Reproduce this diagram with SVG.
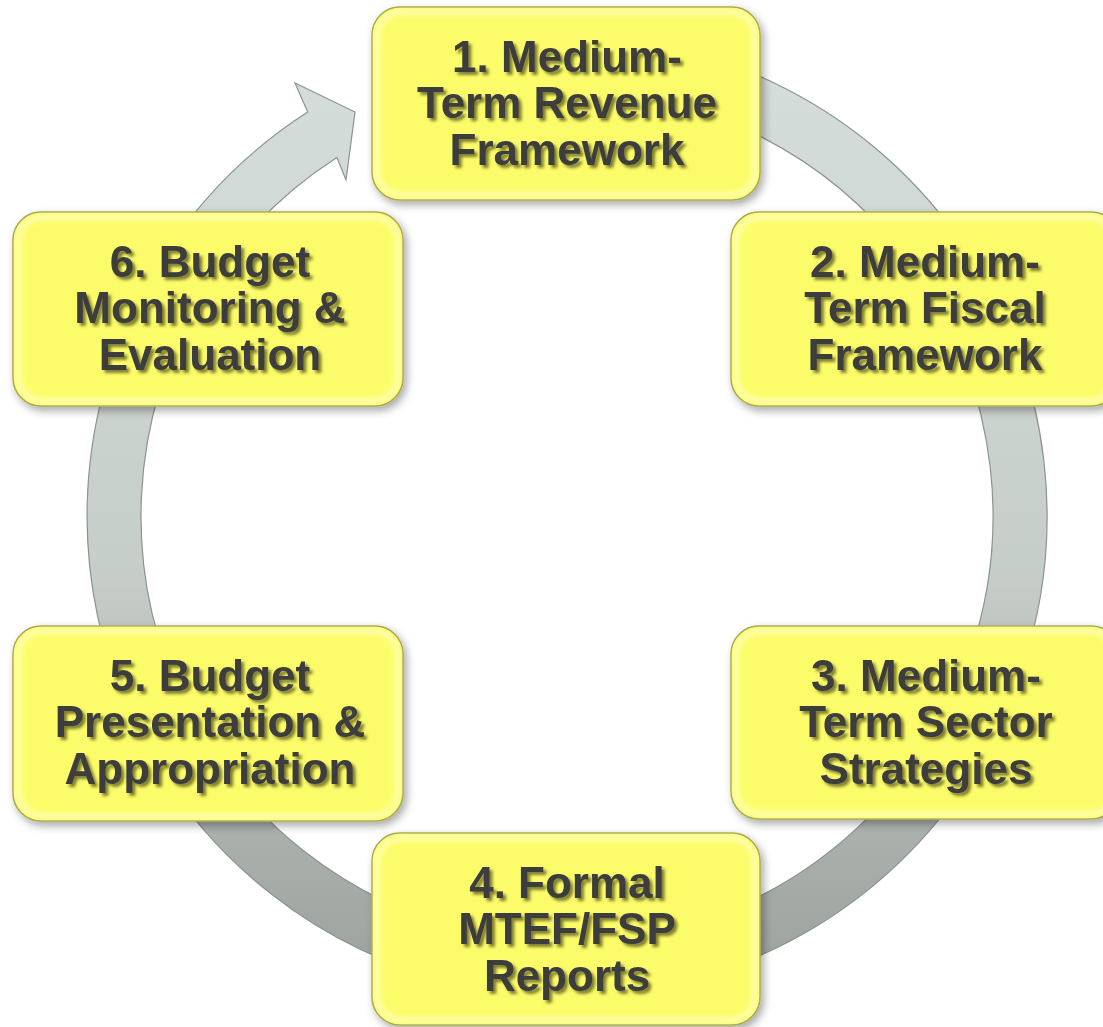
<svg xmlns="http://www.w3.org/2000/svg" width="1103" height="1027" viewBox="0 0 1103 1027">
  <defs>
    <style>
      .box { fill: #fcfc6a; stroke: #9e9e40; stroke-width: 1.5; filter: url(#boxShadow); }
      .rim { fill: none; stroke: #ffffc4; stroke-width: 6; opacity: 0.75; filter: url(#soft); }
      .label { font-family: "Liberation Sans", Arial, sans-serif; font-weight: bold; font-size: 44px; fill: #3c3c3c; text-anchor: middle; filter: url(#textShadow); }
      .ringEdge { fill: none; stroke: #8c938f; stroke-width: 1.2; }
    </style>
    <filter id="boxShadow" x="-10%" y="-10%" width="125%" height="130%">
      <feDropShadow dx="3" dy="4" stdDeviation="4" flood-color="#000" flood-opacity="0.35"/>
    </filter>
    <filter id="soft" x="-5%" y="-5%" width="110%" height="110%">
      <feGaussianBlur stdDeviation="2.5"/>
    </filter>
    <filter id="textShadow" x="-10%" y="-20%" width="120%" height="150%">
      <feGaussianBlur in="SourceAlpha" stdDeviation="1.8" result="b"/>
      <feOffset in="b" dx="2.5" dy="3" result="o"/>
      <feFlood flood-color="#55551a" flood-opacity="0.75"/>
      <feComposite in2="o" operator="in" result="s"/>
      <feMerge>
        <feMergeNode in="s"/>
        <feMergeNode in="SourceGraphic"/>
      </feMerge>
    </filter>
    <!-- ring shading: lighter at the top, darker at the bottom -->
    <linearGradient id="ringFill" gradientUnits="userSpaceOnUse" x1="0" y1="40" x2="0" y2="1000">
      <stop offset="0" stop-color="#d6dedb"/>
      <stop offset="0.55" stop-color="#c6ceca"/>
      <stop offset="0.8" stop-color="#acb2ae"/>
      <stop offset="1" stop-color="#9aa09c"/>
    </linearGradient>
    <!-- soft lengthwise sheen along the middle of the band -->
    <radialGradient id="ringSheen" gradientUnits="userSpaceOnUse" cx="567" cy="516" r="512">
      <stop offset="0.83" stop-color="#fff" stop-opacity="0"/>
      <stop offset="0.885" stop-color="#fff" stop-opacity="0.18"/>
      <stop offset="0.94" stop-color="#fff" stop-opacity="0"/>
      <stop offset="1" stop-color="#fff" stop-opacity="0"/>
    </radialGradient>
  </defs>

  <rect width="1103" height="1027" fill="#ffffff"/>

  <!-- circular flow arrow running clockwise behind the six stages -->
  <g id="connectors">
    <path id="cycle-arrow" d="M 567 36 A 480 480 0 1 1 307.7 112.1 L 295 83 L 355 112 L 346 180 L 336.9 157.5 A 426 426 0 1 0 567 90 Z" fill="url(#ringFill)"/>
    <path d="M 567 36 A 480 480 0 1 1 307.7 112.1 L 295 83 L 355 112 L 346 180 L 336.9 157.5 A 426 426 0 1 0 567 90 Z" fill="url(#ringSheen)" class="ringEdge"/>
  </g>

  <g id="node1">
    <rect class="box" x="372" y="7" width="388" height="193" rx="28"/>
    <rect class="rim" x="377" y="12" width="378" height="183" rx="24"/>
    <text class="label" x="567" y="72">1. Medium-</text>
    <text class="label" x="567" y="118">Term Revenue</text>
    <text class="label" x="567" y="165">Framework</text>
  </g>

  <g id="node2">
    <rect class="box" x="731" y="212" width="388" height="194" rx="28"/>
    <rect class="rim" x="736" y="217" width="378" height="184" rx="24"/>
    <text class="label" x="925" y="277">2. Medium-</text>
    <text class="label" x="925" y="323">Term Fiscal</text>
    <text class="label" x="925" y="370">Framework</text>
  </g>

  <g id="node3">
    <rect class="box" x="731" y="626" width="388" height="193" rx="28"/>
    <rect class="rim" x="736" y="631" width="378" height="183" rx="24"/>
    <text class="label" x="926" y="691">3. Medium-</text>
    <text class="label" x="926" y="737">Term Sector</text>
    <text class="label" x="926" y="784">Strategies</text>
  </g>

  <g id="node4">
    <rect class="box" x="372" y="833" width="388" height="192" rx="28"/>
    <rect class="rim" x="377" y="838" width="378" height="182" rx="24"/>
    <text class="label" x="567" y="898">4. Formal</text>
    <text class="label" x="567" y="944">MTEF/FSP</text>
    <text class="label" x="567" y="991">Reports</text>
  </g>

  <g id="node5">
    <rect class="box" x="13" y="626" width="390" height="195" rx="28"/>
    <rect class="rim" x="18" y="631" width="380" height="185" rx="24"/>
    <text class="label" x="210" y="691">5. Budget</text>
    <text class="label" x="210" y="737">Presentation &amp;</text>
    <text class="label" x="210" y="784">Appropriation</text>
  </g>

  <g id="node6">
    <rect class="box" x="13" y="212" width="390" height="194" rx="28"/>
    <rect class="rim" x="18" y="217" width="380" height="184" rx="24"/>
    <text class="label" x="210" y="277">6. Budget</text>
    <text class="label" x="210" y="323">Monitoring &amp;</text>
    <text class="label" x="210" y="370">Evaluation</text>
  </g>
</svg>
